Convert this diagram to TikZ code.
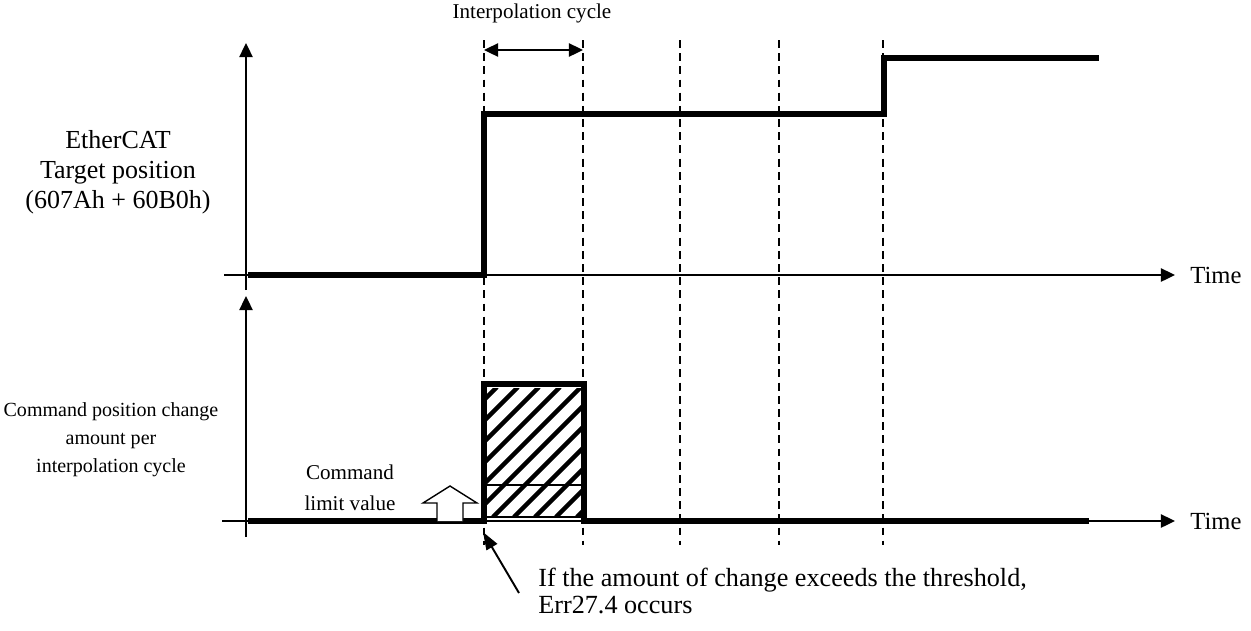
\documentclass[tikz,border=0pt]{standalone}
\usepackage{fontspec}
\setmainfont{Liberation Serif}
\usetikzlibrary{arrows.meta,positioning}

\tikzset{
  axisline/.style={line width=1.1pt, -{Triangle[length=8pt,width=7.5pt]}},
  signal/.style={line width=3.4pt, line join=miter},
  gridline/.style={line width=0.8pt, dash pattern=on 4.5pt off 3pt},
  hatchline/.style={line width=2.6pt},
  lbl/.style={inner sep=0pt, align=center},
}

\begin{document}
\begin{tikzpicture}[x=0.02cm, y=-0.02cm]
\useasboundingbox (0,0) rectangle (1251,630);

\def\xAx{246}
\def\yUp{275}       % upper time axis
\def\yLo{521}       % lower time axis
\def\tOn{484}       % first step
\def\tOff{584}      % end of first cycle
\def\tTwo{884}      % second step
\def\boxTop{384}
\def\limY{485}

% --- cycle grid (dashed) ---
\foreach \gx in {484,583,680,779,883} {
  \draw[gridline] (\gx,40) -- (\gx,545);
}

% --- axes ---
\coordinate (upYs) at (\xAx,290);
\coordinate (upYe) at (\xAx,43);
\coordinate (upXs) at (224,\yUp);
\coordinate (upXe) at (1175,\yUp);
\coordinate (loYs) at (\xAx,537);
\coordinate (loYe) at (\xAx,296);
\coordinate (loXs) at (222,\yLo);
\coordinate (loXe) at (1175,\yLo);
\draw[axisline] (upYs) -- (upYe);
\draw[axisline] (upXs) -- (upXe);
\draw[axisline] (loYs) -- (loYe);
\draw[axisline] (loXs) -- (loXe);

\node[lbl, anchor=west, font=\fontsize{14}{16}\selectfont, right=0.3cm of upXe] (timeUp) {Time};
\node[lbl, anchor=west, font=\fontsize{14}{16}\selectfont, right=0.3cm of loXe] (timeLo) {Time};

% --- target position (upper) ---
\draw[signal] (248,\yUp) -- (\tOn,\yUp) -- (\tOn,114) -- (\tTwo,114)
  -- (\tTwo,58) -- (1099,58);

\node[lbl, font=\fontsize{14.8}{17}\selectfont] (tgtLbl) at (118,172)
  {EtherCAT\\Target position\\(607Ah + 60B0h)};

% --- interpolation cycle ---
\coordinate (cycA) at (484,50);
\coordinate (cycB) at (583,50);
\draw[line width=1.1pt, {Triangle[length=8pt,width=7.5pt]}-{Triangle[length=8pt,width=7.5pt]}]
  (cycA) -- (cycB);
\node[lbl, font=\fontsize{12}{14}\selectfont] (cycLbl) at (532,13) {Interpolation cycle};

% --- hatched change amount (lower) ---
\begin{scope}
  \clip (487,388) rectangle (581,517);
  \foreach \i in {0,...,12} {
    \pgfmathsetmacro\hx{346 + 21*\i}
    \draw[hatchline] (\hx,517) -- (\hx+130,387);
  }
\end{scope}
\draw[white, line width=1.6pt] (487,\limY) -- (581,\limY);
\draw[line width=0.6pt] (484,\limY) -- (584,\limY);
\draw[line width=0.6pt] (484,517) -- (584,517);

\draw[signal] (248,\yLo) -- (\tOn,\yLo) -- (\tOn,\boxTop) -- (\tOff,\boxTop)
  -- (\tOff,\yLo) -- (1089,\yLo);

\node[lbl, font=\fontsize{11.4}{16}\selectfont] (chgLbl) at (111,440)
  {Command position change\\amount per\\interpolation cycle};

% --- command limit value ---
\draw[line width=0.8pt, fill=white] (437,\yLo) -- (437,503) -- (423,503) -- (450,486)
  -- (477,503) -- (463,503) -- (463,\yLo);
\node[lbl, font=\fontsize{12}{17.6}\selectfont] (limLbl) at (350,488)
  {Command\\limit value};

% --- error note ---
\node[lbl, align=left, anchor=west, font=\fontsize{14.9}{15.6}\selectfont] (errNote) at (538,591)
  {If the amount of change exceeds the threshold,\\Err27.4 occurs};
\coordinate (errTip) at (483,532);
\coordinate (errTail) at (519,593);
\draw[line width=1.1pt, -{Triangle[length=10pt,width=7pt]}] (errTail) -- (errTip);

\end{tikzpicture}
\end{document}
